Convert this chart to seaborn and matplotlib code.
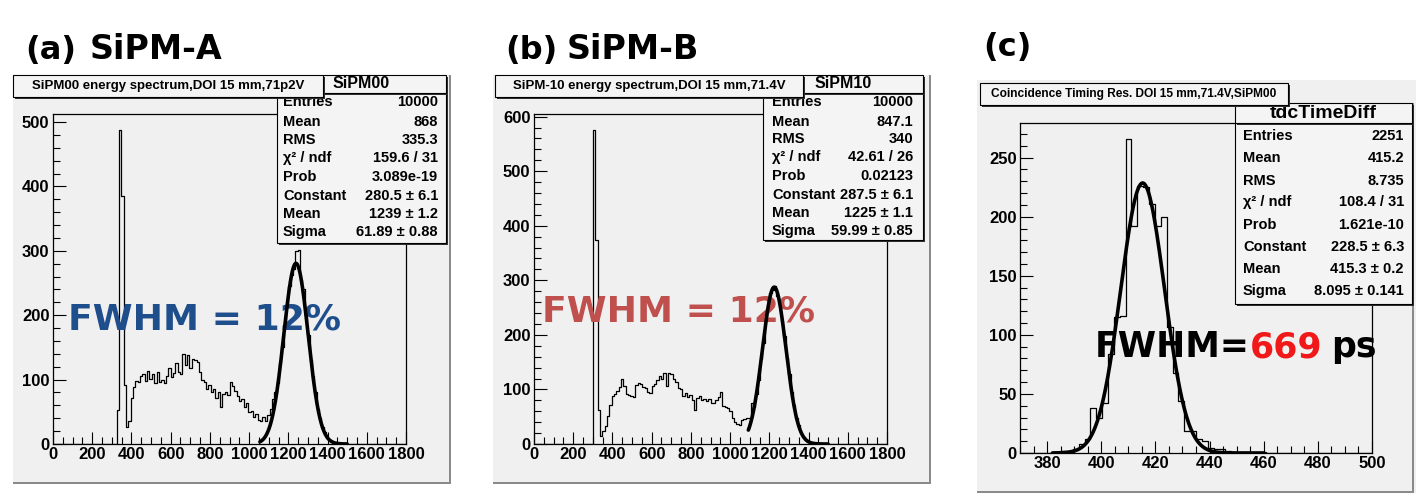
import numpy as np
import pandas as pd
import matplotlib
matplotlib.use("Agg")
import matplotlib.pyplot as plt
import seaborn as sns
from matplotlib.patches import Rectangle
from matplotlib.ticker import MultipleLocator

W, H = 1416, 495

# ---------------- data ----------------
# Panel (a): SiPM00 energy spectrum, 12-unit bins on 0..1800, counts from bin starting at 324
a_bin_width = 12
a_range = (0, 1800)
a_first_bin = 324
a_counts = [53, 488, 385, 92, 27, 35, 72, 88, 98, 96, 105, 108, 98, 114, 101, 108,
            94, 112, 97, 100, 95, 106, 118, 104, 110, 125, 112, 108, 140, 122, 138,
            118, 132, 130, 128, 112, 100, 96, 85, 92, 80, 86, 72, 80, 58, 78, 80, 76,
            96, 90, 82, 75, 66, 70, 58, 64, 50, 52, 42, 46, 38, 35, 42, 36, 45, 55,
            70, 80, 95, 125, 150, 185, 212, 245, 262, 272, 300, 301, 255, 240, 200,
            170, 130, 105, 80, 55, 40, 26, 18, 10, 6, 4, 2, 2, 1, 1, 0, 1]
a_fit = (280.5, 1239.0, 61.89)      # Constant, Mean, Sigma
a_fit_range = (1055, 1500)

# Panel (b): SiPM10 energy spectrum, counts from bin starting at 300
b_bin_width = 12
b_range = (0, 1800)
b_first_bin = 300
b_counts = [576, 374, 62, 14, 24, 33, 52, 72, 88, 92, 98, 104, 120, 106, 92, 90, 88,
            86, 108, 112, 110, 104, 102, 95, 93, 106, 110, 118, 124, 120, 130, 106,
            130, 128, 120, 114, 103, 100, 88, 94, 86, 90, 80, 62, 84, 88, 80, 82, 78,
            82, 76, 76, 80, 86, 96, 70, 68, 66, 60, 48, 40, 36, 34, 44, 46, 48, 47,
            75, 68, 92, 118, 156, 186, 225, 250, 276, 283, 290, 272, 258, 225, 198,
            158, 128, 95, 72, 48, 34, 20, 13, 8, 4, 2, 1, 1]
b_fit = (287.5, 1225.0, 59.99)
b_fit_range = (1093, 1500)

# Panel (c): coincidence timing, 60 bins on 370..500
c_range = (370, 500)
c_nbins = 60
c_counts = [0, 0, 0, 0, 0, 0, 1, 2, 2, 3, 8, 12, 38, 30, 42, 84, 115, 116, 266, 192,
            226, 225, 211, 192, 200, 107, 68, 44, 19, 19, 12, 10, 4, 3, 3, 2, 1, 0, 1,
            1, 1, 1, 0, 0, 0, 0, 0, 0, 0, 0, 0, 0, 0, 0, 0, 0, 0, 0, 0, 0]
c_fit = (228.5, 415.3, 8.095)
c_fit_range = (382, 460)

stat_labels = ["Entries", "Mean", "RMS", "χ² / ndf", "Prob", "Constant", "Mean", "Sigma"]
a_stats = ["10000", "868", "335.3", "159.6 / 31", "3.089e-19", "280.5 ± 6.1",
           "1239 ± 1.2", "61.89 ± 0.88"]
b_stats = ["10000", "847.1", "340", "42.61 / 26", "0.02123", "287.5 ± 6.1",
           "1225 ± 1.1", "59.99 ± 0.85"]
c_stats = ["2251", "415.2", "8.735", "108.4 / 31", "1.621e-10", "228.5 ± 6.3",
           "415.3 ± 0.2", "8.095 ± 0.141"]

a_title = "SiPM00 energy spectrum,DOI 15 mm,71p2V"
b_title = "SiPM-10 energy spectrum,DOI 15 mm,71.4V"
c_title = "Coincidence Timing Res. DOI 15 mm,71.4V,SiPM00"
a_name, b_name, c_name = "SiPM00", "SiPM10", "tdcTimeDiff"

# ---------------- style ----------------
sns.set_style("ticks")
plt.rcParams["font.family"] = ["Liberation Sans", "DejaVu Sans"]
plt.rcParams["font.weight"] = "bold"
plt.rcParams["text.color"] = "black"
plt.rcParams["xtick.color"] = "black"
plt.rcParams["ytick.color"] = "black"

CANVAS = "#f0f0f0"
BOXC = "#f4f4f4"
SHADOW = "#303030"
BORDER = "#8a8a8a"

fig = plt.figure(figsize=(W / 100, H / 100), dpi=100)
fig.patch.set_facecolor("white")


def fx(x):
    return x / W


def fy(y):
    return 1 - y / H


def rect(x0, y0, x1, y1, z, **kw):
    r = Rectangle((fx(x0), fy(y1)), (x1 - x0) / W, (y1 - y0) / H,
                  transform=fig.transFigure, zorder=z, **kw)
    fig.add_artist(r)


def pave(x0, y0, x1, y1, z, shadow=2):
    rect(x0 + shadow, y0 + shadow, x1 + shadow, y1 + shadow, z, fc=SHADOW, ec="none")
    rect(x0, y0, x1, y1, z + 0.05, fc=BOXC, ec="black", lw=0.8)


def make_hist(first_bin, width, counts, rng, nbins=None):
    if nbins is None:
        edges = np.arange(rng[0], rng[1] + width / 2, width)
    else:
        edges = np.linspace(rng[0], rng[1], nbins + 1)
    centers = first_bin + width * (np.arange(len(counts)) + 0.5)
    df = pd.DataFrame({"x": centers, "n": np.asarray(counts, float)})
    return [float(e) for e in edges], df


def panel(frame, edges, df, fit, fit_range, xlim, xmaj, xmin, ymaj, ymin):
    x0, y0, x1, y1 = frame
    ax = fig.add_axes([fx(x0), fy(y1), (x1 - x0) / W, (y1 - y0) / H])
    ax.set_facecolor(CANVAS)
    sns.histplot(data=df, x="x", weights="n", bins=edges, element="step", fill=False,
                 color="black", linewidth=0.9, ax=ax, zorder=1)
    xs = np.linspace(fit_range[0], fit_range[1], 400)
    ys = fit[0] * np.exp(-0.5 * ((xs - fit[1]) / fit[2]) ** 2)
    sns.lineplot(x=xs, y=ys, color="black", linewidth=2.6, ax=ax, estimator=None,
                 sort=False, zorder=3)
    ax.set_xlim(*xlim)
    ax.set_ylim(0, 1.05 * df["n"].max())
    ax.set_xlabel("")
    ax.set_ylabel("")
    ax.xaxis.set_major_locator(MultipleLocator(xmaj))
    ax.xaxis.set_minor_locator(MultipleLocator(xmin))
    ax.yaxis.set_major_locator(MultipleLocator(ymaj))
    ax.yaxis.set_minor_locator(MultipleLocator(ymin))
    ax.tick_params(which="both", direction="in", top=False, right=False,
                   colors="black", width=0.8)
    ax.tick_params(which="major", length=9, labelsize=12, pad=2.5)
    ax.tick_params(which="minor", length=5)
    for lab in ax.get_xticklabels() + ax.get_yticklabels():
        lab.set_fontweight("bold")
    for s in ax.spines.values():
        s.set_color("black")
        s.set_linewidth(0.9)
        s.set_visible(True)
    return ax


def stats_box(body, rows_y, lab_x, val_x, values, size=10.5):
    pave(*body, z=5)
    for lab, val, yy in zip(stat_labels, values, rows_y):
        fig.text(fx(lab_x), fy(yy), lab, ha="left", va="center", fontsize=size,
                 fontweight="bold", zorder=5.5)
        fig.text(fx(val_x), fy(yy), val, ha="right", va="center", fontsize=size,
                 fontweight="bold", zorder=5.5)


# ---------------- canvases ----------------
rect(13, 75, 451, 484, -5, fc=CANVAS, ec="none")
rect(449, 75, 451, 484, -4, fc=BORDER, ec="none")
rect(13, 482, 451, 484, -4, fc=BORDER, ec="none")
rect(493, 75, 931, 484, -5, fc=CANVAS, ec="none")
rect(929, 75, 931, 484, -4, fc=BORDER, ec="none")
rect(493, 482, 931, 484, -4, fc=BORDER, ec="none")
rect(977, 80, 1416, 493, -5, fc=CANVAS, ec="none")
rect(1412, 103, 1414, 493, -4, fc=BORDER, ec="none")
rect(977, 491, 1414, 493, -4, fc=BORDER, ec="none")

# ---------------- panel (a) ----------------
ea, dfa = make_hist(a_first_bin, a_bin_width, a_counts, a_range)
ax_a = panel((53, 114, 406, 444), ea, dfa, a_fit, a_fit_range, a_range, 200, 50, 100, 20)
stats_box((277, 93, 446, 243), [102, 122, 140, 158, 177, 196, 214, 232], 283, 438, a_stats)
pave(323, 75, 446, 93, z=6)
fig.text(fx(333), fy(84), a_name, ha="left", va="center", fontsize=11.5,
         fontweight="bold", zorder=6.5)
pave(13, 75, 323, 97, z=7)
fig.text(fx(168), fy(86), a_title, ha="center", va="center", fontsize=9.5,
         fontweight="bold", zorder=7.5)
ax_a.text(fx(68), fy(329), "FWHM = 12%", transform=fig.transFigure, ha="left",
          va="baseline", fontsize=26, fontweight="bold", family="DejaVu Sans",
          color="#1F4E8C", zorder=2, clip_on=False)
fig.text(fx(25), fy(59), "(a)", family="DejaVu Sans", fontweight="bold", fontsize=23,
         va="baseline", color="black")
fig.text(fx(90), fy(59), "SiPM-A", family="DejaVu Sans", fontweight="bold",
         fontsize=24, va="baseline", color="black")

# ---------------- panel (b) ----------------
eb, dfb = make_hist(b_first_bin, b_bin_width, b_counts, b_range)
ax_b = panel((534, 114, 887, 444), eb, dfb, b_fit, b_fit_range, b_range, 200, 50, 100, 20)
stats_box((763, 93, 923, 240), [102, 122, 139, 157, 176, 195, 213, 231], 772, 913, b_stats)
pave(803, 75, 923, 93, z=6)
fig.text(fx(815), fy(84), b_name, ha="left", va="center", fontsize=11.5,
         fontweight="bold", zorder=6.5)
pave(495, 75, 803, 97, z=7)
fig.text(fx(649), fy(86), b_title, ha="center", va="center", fontsize=9.5,
         fontweight="bold", zorder=7.5)
ax_b.text(fx(542), fy(322), "FWHM = 12%", transform=fig.transFigure, ha="left",
          va="baseline", fontsize=26, fontweight="bold", family="DejaVu Sans",
          color="#C0504D", zorder=2, clip_on=False)
fig.text(fx(505), fy(59), "(b)", family="DejaVu Sans", fontweight="bold", fontsize=23,
         va="baseline", color="black")
fig.text(fx(567), fy(59), "SiPM-B", family="DejaVu Sans", fontweight="bold",
         fontsize=24, va="baseline", color="black")

# ---------------- panel (c) ----------------
c_width = (c_range[1] - c_range[0]) / c_nbins
ecc, dfc = make_hist(c_range[0], c_width, c_counts, c_range, nbins=c_nbins)
ax_c = panel((1020, 123, 1372, 453), ecc, dfc, c_fit, c_fit_range, c_range, 20, 5, 50, 10)
stats_box((1235, 123, 1412, 304), [136, 158, 181, 202, 225, 247, 269, 291], 1243, 1404,
          c_stats)
pave(1235, 103, 1412, 123, z=6)
fig.text(fx(1323), fy(113), c_name, ha="center", va="center", fontsize=14,
         fontweight="bold", zorder=6.5)
pave(980, 83, 1288, 105, z=7)
fig.text(fx(1134), fy(94), c_title, ha="center", va="center", fontsize=8.6,
         fontweight="bold", zorder=7.5)
t1 = ax_c.text(fx(1095), fy(357), "FWHM=", transform=fig.transFigure, ha="left",
               va="baseline", fontsize=25, fontweight="bold", family="DejaVu Sans",
               color="black", zorder=2, clip_on=False)
t2 = ax_c.annotate("669", xy=(1, 0), xycoords=t1, ha="left", va="bottom",
                   fontsize=25, fontweight="bold", family="DejaVu Sans",
                   color="#F01818", zorder=2, annotation_clip=False)
t3 = ax_c.annotate("ps", xy=(1, 0), xycoords=t2, xytext=(6, 0),
                   textcoords="offset points", ha="left", va="bottom",
                   fontsize=25, fontweight="bold", family="DejaVu Sans",
                   color="black", zorder=2, annotation_clip=False)
fig.text(fx(983), fy(56), "(c)", family="DejaVu Sans", fontweight="bold", fontsize=23,
         va="baseline", color="black")

fig.savefig("out.png", dpi=100)
